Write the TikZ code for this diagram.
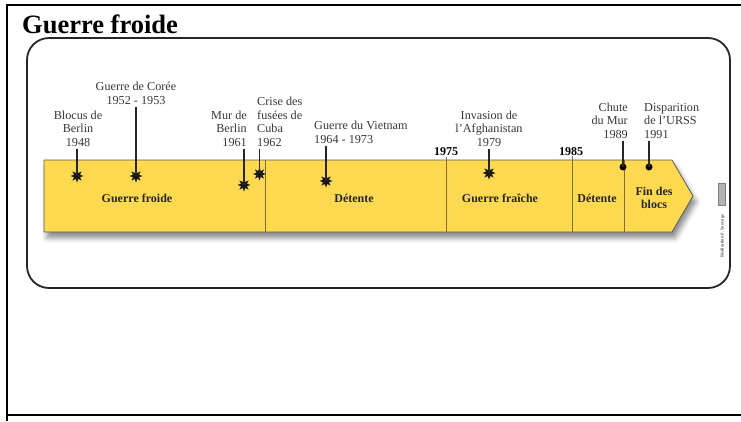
\documentclass[tikz,border=0pt]{standalone}
\usepackage{fontspec}
\setmainfont{Liberation Serif}
\usetikzlibrary{shapes.geometric,shadows.blur}
\definecolor{bandyellow}{RGB}{253,217,80}
\definecolor{evtext}{RGB}{55,55,55}
\definecolor{divline}{RGB}{125,110,60}
\tikzset{
  evlabel/.style={font=\fontsize{12.2}{13.8}\selectfont, text=evtext, inner sep=1.5pt},
  periodlabel/.style={font=\bfseries\fontsize{12}{13.5}\selectfont, text=black!85, align=center, inner sep=0pt},
  yearlabel/.style={font=\bfseries\fontsize{12}{13}\selectfont, anchor=base, inner sep=0pt},
  burst/.style={star, star points=8, star point ratio=2.0, minimum size=13pt, inner sep=0pt, fill=black!90},
  evdot/.style={circle, fill=black, minimum size=7pt, inner sep=0pt},
  stem/.style={line width=1.1pt, black!85},
  divider/.style={line width=0.6pt, divline}
}
\begin{document}
\begin{tikzpicture}[x=1pt,y=-1pt]
\useasboundingbox (0,0) rectangle (741,421);
% page frame
\draw[line width=2.4pt] (7,421) -- (7,5) -- (741,5);
\draw[line width=1.3pt] (7,415) -- (741,415);
\draw[line width=2.6pt] (7,415) -- (155,415);
% title
\node[anchor=base west, inner sep=0pt, font=\bfseries\fontsize{26.5}{26.5}\selectfont] (title) at (22,33) {Guerre froide};
% rounded frame
\draw[line width=1.8pt, black!85, rounded corners=22pt] (27,38) rectangle (730,288);
% band arrow
\path[fill=bandyellow, draw=black!65, line width=0.8pt,
      blur shadow={shadow xshift=3pt, shadow yshift=-6pt, shadow blur radius=5pt, shadow opacity=45}]
  (44,160) -- (672,160) -- (693,196) -- (672,232) -- (44,232) -- cycle;
% dividers
\coordinate (v1t) at (265,160); \coordinate (v1b) at (265,232);
\coordinate (v2t) at (446,157); \coordinate (v2b) at (446,232);
\coordinate (v3t) at (572,156); \coordinate (v3b) at (572,232);
\coordinate (v4t) at (624,160); \coordinate (v4b) at (624,232);
\draw[divider] (v1t) -- (v1b);
\draw[divider] (v2t) -- (v2b);
\draw[divider] (v3t) -- (v3b);
\draw[divider] (v4t) -- (v4b);
% period labels
\node[periodlabel, anchor=base] (p1) at (137,202) {Guerre froide};
\node[periodlabel, anchor=base] (p2) at (354,202) {Détente};
\node[periodlabel, anchor=base] (p3) at (500,202) {Guerre fraîche};
\node[periodlabel, anchor=base] (p4) at (597,202) {Détente};
\node[periodlabel, anchor=base] (p5a) at (654,195) {Fin des};
\node[periodlabel, anchor=base] (p5b) at (654,208) {blocs};
% year labels
\node[yearlabel] (y1975) at (446,155.5) {1975};
\node[yearlabel] (y1985) at (571,155) {1985};
% events
\node[burst] (s1) at (77,176) {};
\node[burst] (s2) at (136,176) {};
\node[burst] (s3) at (244,185) {};
\node[burst] (s4) at (259.5,174) {};
\node[burst] (s5) at (326,181) {};
\node[burst] (s6) at (489,173) {};
\node[evdot] (d1) at (623,167) {};
\node[evdot] (d2) at (649,167) {};
\node[evlabel, align=center, anchor=south] (blocus) at (78,148.5) {Blocus de\\Berlin\\1948};
\node[evlabel, align=center, anchor=south] (coree) at (136,106.5) {Guerre de Corée\\1952 - 1953};
\node[evlabel, align=right, anchor=south east] (mur) at (248.5,148.5) {Mur de\\Berlin\\1961};
\node[evlabel, align=left, anchor=south west] (crise) at (255.5,148.5) {Crise des\\fusées de\\Cuba\\1962};
\node[evlabel, align=left, anchor=south west] (vietnam) at (312.5,145.5) {Guerre du Vietnam\\1964 - 1973};
\node[evlabel, align=center, anchor=south] (afgh) at (489,148.5) {Invasion de\\l’Afghanistan\\1979};
\node[evlabel, align=right, anchor=south east] (chute) at (629.5,140.5) {Chute\\du Mur\\1989};
\node[evlabel, align=left, anchor=south west] (urss) at (642.5,140.5) {Disparition\\de l’URSS\\1991};
\draw[stem] (s1 |- blocus.south) -- (s1.center);
\draw[stem] (s2 |- coree.south) -- (s2.center);
\draw[stem] (s3 |- mur.south) -- (s3.center);
\draw[stem] (s4 |- crise.south) -- (s4.center);
\draw[stem] (s5 |- vietnam.south) -- (s5.center);
\draw[stem] (s6 |- afgh.south) -- (s6.center);
\draw[stem] (d1 |- chute.south) -- (d1.center);
\draw[stem] (d2 |- urss.south) -- (d2.center);
% credit mark
\node[fill=black!30, draw=black!50, line width=0.3pt, minimum width=7pt, minimum height=22pt, inner sep=0pt] (cc) at (722,194) {};
\node[rotate=90, anchor=west, font=\bfseries\fontsize{4.5}{4.5}\selectfont, text=black!65, inner sep=0pt] (credit) at (722.5,258) {Réalisation F. Sauvage};
\end{tikzpicture}
\end{document}
